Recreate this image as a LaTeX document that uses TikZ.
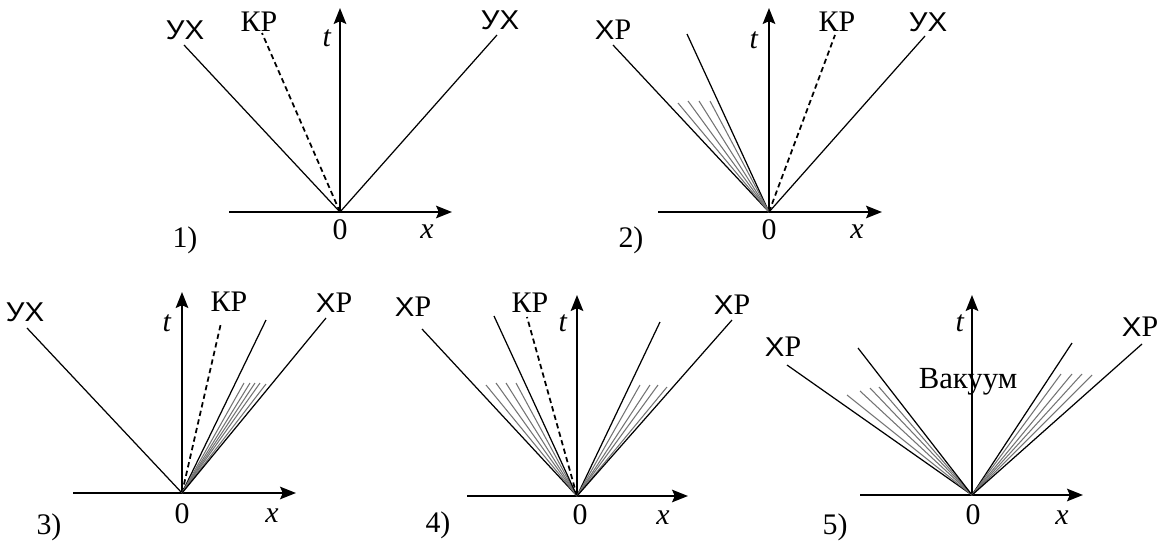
\documentclass[tikz,border=0pt]{standalone}
\usepackage{fontspec}
\usepackage{graphicx}
\setmainfont{Liberation Serif}
\newfontfamily\sansru{Liberation Sans}
\newcommand{\wsans}[1]{{\fontsize{15.5}{18}\selectfont\sansru\scalebox{1.08}[1]{#1}}}
\usetikzlibrary{arrows.meta}

\begin{document}
\begin{tikzpicture}[x=0.02cm, y=-0.02cm, >={Stealth[length=9pt,width=7pt,inset=1.5pt]},
    font=\fontsize{17}{20}\selectfont,
    axis/.style={->, line width=1.5pt},
    wave/.style={line width=0.7pt},
    contact/.style={dashed, dash pattern=on 3pt off 2pt, line width=1pt},
    fanline/.style={line width=0.6pt, black!55},
    lbl/.style={inner sep=0pt},
    word/.style={inner sep=0pt, font=\fontsize{17}{20}\selectfont}]
  \useasboundingbox (0,0) rectangle (1164,545);
  % ---------------- panel 1 ----------------
  \coordinate (O1) at (340,212);
  \coordinate (X1) at (229,212); \coordinate (Xe1) at (452,212); \coordinate (T1) at (340,8);
  \draw[axis] (X1) -- (Xe1);
  \draw[axis] (O1) -- (T1);
  \coordinate (a1) at (184,45); \coordinate (b1) at (262,33); \coordinate (c1) at (497,35);
  \draw[wave] (O1) -- (a1);
  \draw[contact] (O1) -- (b1);
  \draw[wave] (O1) -- (c1);
  \node[lbl] (ua1) at (185,30) {\wsans{УХ}};
  \node[word] (kr1) at (259,22) {КР};
  \node[lbl] (uc1) at (500,20) {\wsans{УХ}};
  \node[lbl] (t1) at (327,38) {\textit{t}};
  \node[lbl] (z1) at (340,230) {0};
  \node[lbl] (x1) at (427,232) {\textit{x}};
  \node[lbl] (n1) at (185,240) {1)};
  % ---------------- panel 2 ----------------
  \coordinate (O2) at (769,212);
  \coordinate (X2) at (658,212); \coordinate (Xe2) at (882,212); \coordinate (T2) at (769,8);
  \draw[axis] (X2) -- (Xe2);
  \draw[axis] (O2) -- (T2);
  \coordinate (a2) at (613,45); \coordinate (b2) at (687,34);
  \coordinate (c2) at (835,35); \coordinate (d2) at (925,36);
  \draw[wave] (O2) -- (a2);
  \draw[wave] (O2) -- (b2);
  \foreach \px/\py in {678/103,688/101,699/101,710/101} \draw[fanline] (O2) -- (\px,\py);
  \draw[contact] (O2) -- (c2);
  \draw[wave] (O2) -- (d2);
  \node[word] (ha2) at (613,30) {\wsans{Х}Р};
  \node[word] (kr2) at (837,22) {КР};
  \node[lbl] (ud2) at (928,22) {\wsans{УХ}};
  \node[lbl] (t2) at (754,40) {\textit{t}};
  \node[lbl] (z2) at (769,230) {0};
  \node[lbl] (x2) at (857,232) {\textit{x}};
  \node[lbl] (n2) at (631,240) {2)};
  % ---------------- panel 3 ----------------
  \coordinate (O3) at (182,493);
  \coordinate (X3) at (73,493); \coordinate (Xe3) at (296,493); \coordinate (T3) at (182,292);
  \draw[axis] (X3) -- (Xe3);
  \draw[axis] (O3) -- (T3);
  \coordinate (a3) at (27,328); \coordinate (b3) at (221,323);
  \coordinate (c3) at (266,320); \coordinate (d3) at (326,318);
  \draw[wave] (O3) -- (a3);
  \draw[contact] (O3) -- (b3);
  \draw[wave] (O3) -- (c3);
  \foreach \px/\py in {244/383,250/383,255/383,260/383,266/384} \draw[fanline] (O3) -- (\px,\py);
  \draw[wave] (O3) -- (d3);
  \node[lbl] (ua3) at (25,312) {\wsans{УХ}};
  \node[word] (kr3) at (229,302) {КР};
  \node[word] (hd3) at (334,303) {\wsans{Х}Р};
  \node[lbl] (t3) at (167,323) {\textit{t}};
  \node[lbl] (z3) at (182,514) {0};
  \node[lbl] (x3) at (272,516) {\textit{x}};
  \node[lbl] (n3) at (49,527) {3)};
  % ---------------- panel 4 ----------------
  \coordinate (O4) at (577,496);
  \coordinate (X4) at (467,496); \coordinate (Xe4) at (688,496); \coordinate (T4) at (577,295);
  \draw[axis] (X4) -- (Xe4);
  \draw[axis] (O4) -- (T4);
  \coordinate (a4) at (422,329); \coordinate (b4) at (494,316); \coordinate (c4) at (527,317);
  \coordinate (d4) at (660,322); \coordinate (e4) at (732,320);
  \draw[wave] (O4) -- (a4);
  \foreach \px/\py in {486/385,496/383,506/383,516/383} \draw[fanline] (O4) -- (\px,\py);
  \draw[wave] (O4) -- (b4);
  \draw[contact] (O4) -- (c4);
  \draw[wave] (O4) -- (d4);
  \foreach \px/\py in {640/385,650/385,658/385,667/387} \draw[fanline] (O4) -- (\px,\py);
  \draw[wave] (O4) -- (e4);
  \node[word] (ha4) at (413,307) {\wsans{Х}Р};
  \node[word] (kr4) at (530,303) {КР};
  \node[word] (he4) at (732,305) {\wsans{Х}Р};
  \node[lbl] (t4) at (563,323) {\textit{t}};
  \node[lbl] (z4) at (580,515) {0};
  \node[lbl] (x4) at (663,518) {\textit{x}};
  \node[lbl] (n4) at (438,525) {4)};
  % ---------------- panel 5 ----------------
  \coordinate (O5) at (972,495);
  \coordinate (X5) at (860,495); \coordinate (Xe5) at (1083,495); \coordinate (T5) at (972,295);
  \draw[axis] (X5) -- (Xe5);
  \draw[axis] (O5) -- (T5);
  \coordinate (a5) at (787,365); \coordinate (b5) at (858,348);
  \coordinate (c5) at (1072,343); \coordinate (d5) at (1142,344);
  \draw[wave] (O5) -- (a5);
  \foreach \px/\py in {847/395,860/391,870/388,879/387} \draw[fanline] (O5) -- (\px,\py);
  \draw[wave] (O5) -- (b5);
  \draw[wave] (O5) -- (c5);
  \foreach \px/\py in {1061/374,1072/374,1082/374,1092/375} \draw[fanline] (O5) -- (\px,\py);
  \draw[wave] (O5) -- (d5);
  \node[word] (ha5) at (783,347) {\wsans{Х}Р};
  \node[word] (hd5) at (1140,327) {\wsans{Х}Р};
  \node[lbl] (t5) at (960,323) {\textit{t}};
  \node[word, font=\fontsize{17.5}{20}\selectfont] (vac) at (968,382) {Вакуум};
  \node[lbl] (z5) at (973,515) {0};
  \node[lbl] (x5) at (1062,518) {\textit{x}};
  \node[lbl] (n5) at (835,527) {5)};
\end{tikzpicture}
\end{document}
